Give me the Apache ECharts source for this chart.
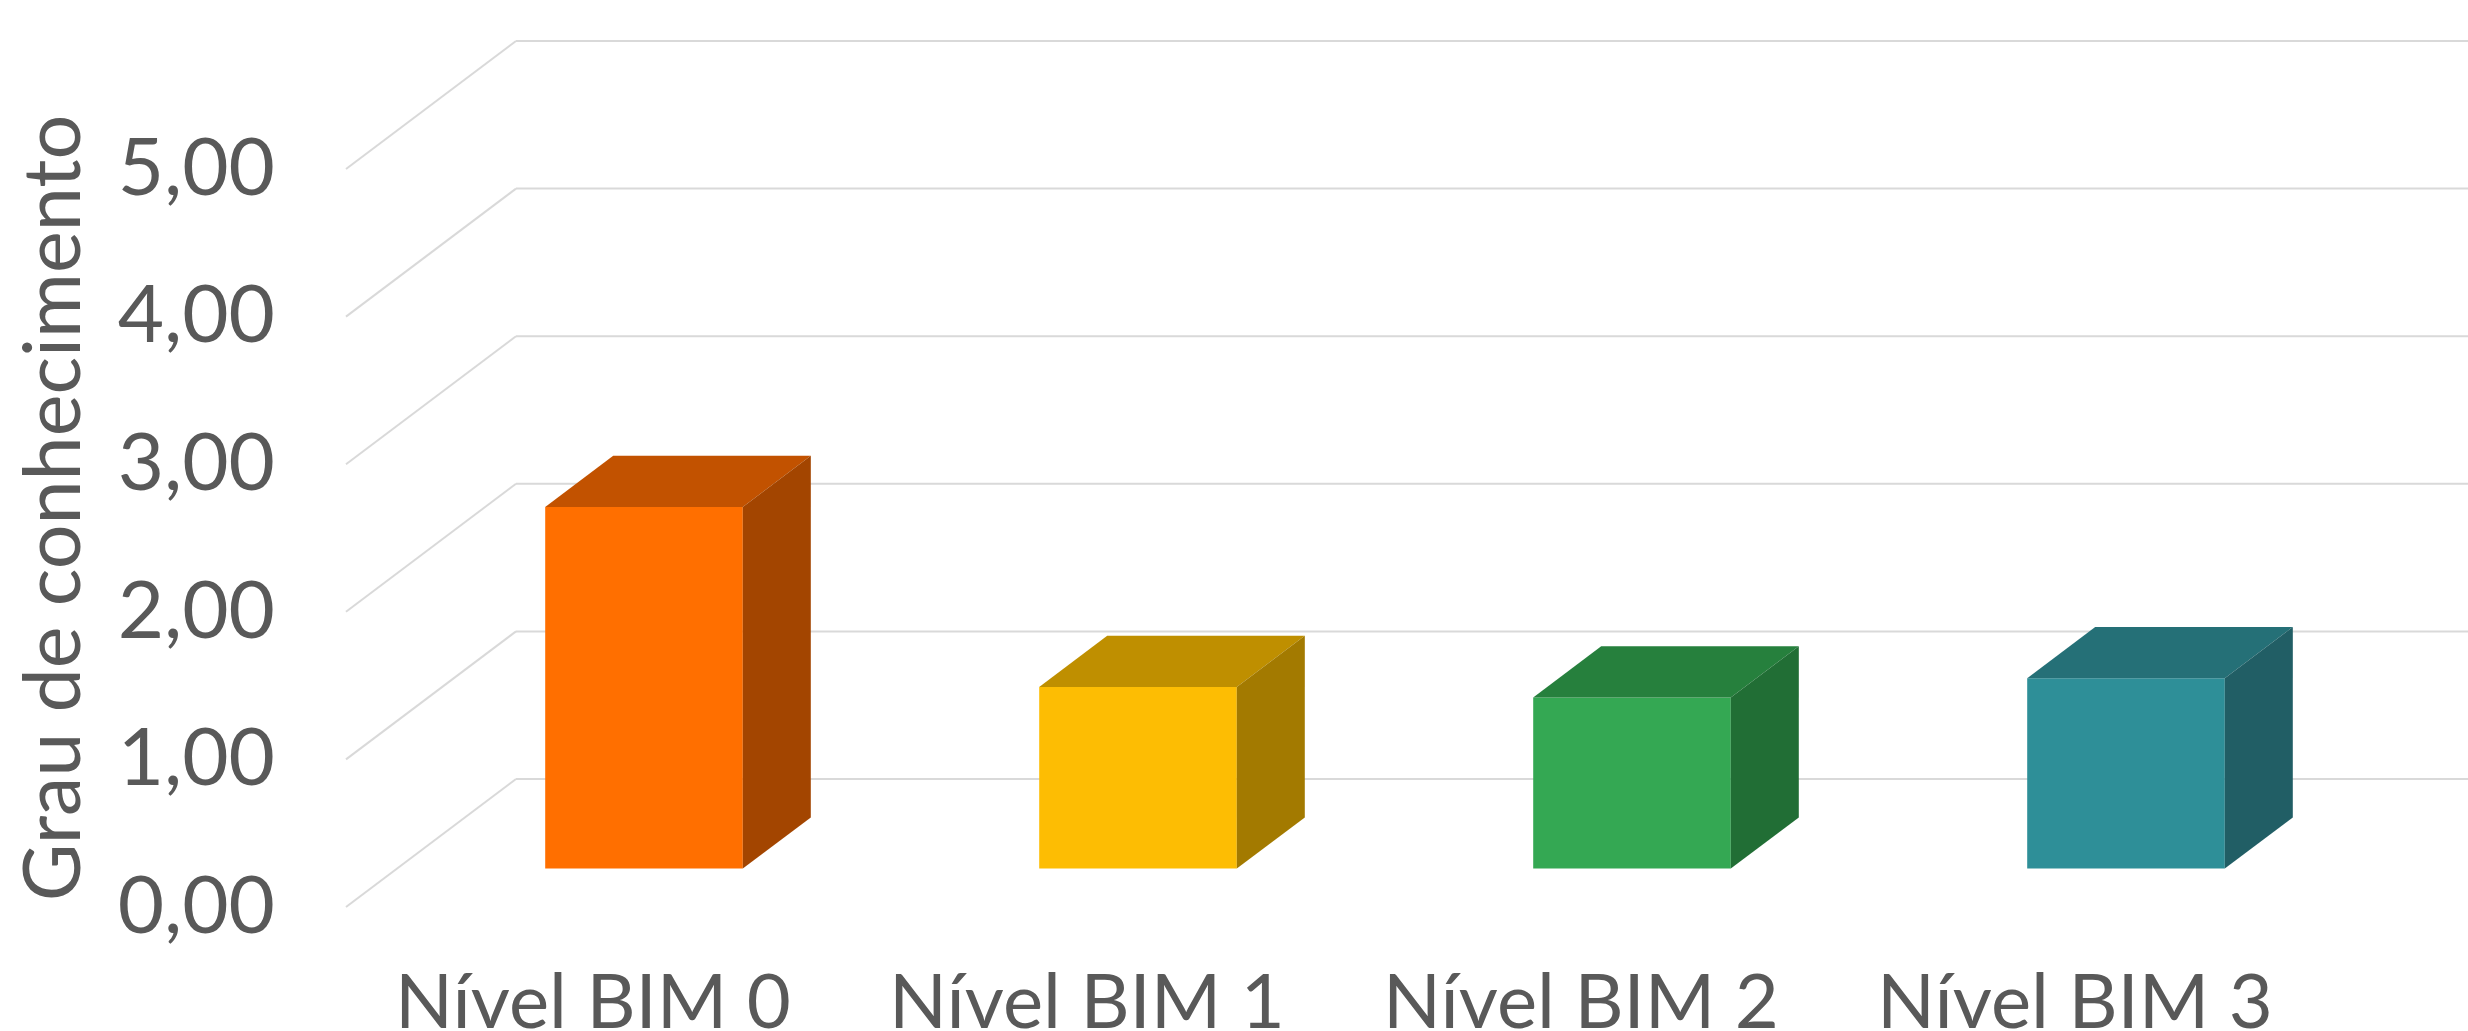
<!DOCTYPE html>
<html>
<head>
<meta charset="utf-8">
<script src="https://cdn.jsdelivr.net/npm/echarts@6/dist/echarts.min.js"></script>
<style>
html, body { margin: 0; padding: 0; background: #ffffff; }
#chart { width: 2468px; height: 1031px; }
</style>
</head>
<body>
<div id="chart"></div>
<script>
// ---- data ----
var categories = ['Nível BIM 0', 'Nível BIM 1', 'Nível BIM 2', 'Nível BIM 3'];
var values = [2.45, 1.23, 1.16, 1.29];
var yTicks = [0, 1, 2, 3, 4, 5];
var axisTitle = 'Grau de conhecimento';

// ---- styles ----
var frontColors = ['#FF6F00', '#FDBD03', '#34A853', '#2E8F98'];
var topColors   = ['#C25200', '#BF8F00', '#26803D', '#257077'];
var sideColors  = ['#A34500', '#A37A00', '#216E35', '#215E65'];
var DEPTH_X = 170, DEPTH_Y = -128;     // wall depth in pixels
var BAR_FRONT = 0.3, BAR_BACK = 0.7;   // bar position in depth
var BAR_WIDTH_RATIO = 0.4;
var GRID_COLOR = '#D9D9D9';
var TEXT_COLOR = '#595959';
var FONT = 'Lato, "Noto Sans", sans-serif';

var chart = echarts.init(document.getElementById('chart'), null, { renderer: 'canvas' });

function fmt(v) { return v.toFixed(2).replace('.', ','); }

var option = {
  backgroundColor: '#ffffff',
  animation: false,
  grid: { left: 346, right: 146, top: 169, bottom: 124, containLabel: false, outerBoundsMode: 'none' },
  xAxis: {
    type: 'category',
    data: categories,
    axisLine: { show: false },
    axisTick: { show: false },
    splitLine: { show: false },
    axisLabel: { color: TEXT_COLOR, fontFamily: FONT, fontSize: 76, margin: 58, interval: 0 }
  },
  yAxis: {
    type: 'value',
    min: 0, max: 5, interval: 1,
    axisLine: { show: false },
    axisTick: { show: false },
    splitLine: { show: false },
    axisLabel: { color: TEXT_COLOR, fontFamily: FONT, fontSize: 80, margin: 71, formatter: fmt },
    name: axisTitle,
    nameLocation: 'middle',
    nameRotate: 90,
    nameGap: 252,
    nameTextStyle: { color: TEXT_COLOR, fontFamily: FONT, fontSize: 79, padding: [0, 0, 0, 60] }
  },
  series: [
    {
      // walls: back wall horizontal lines and side wall diagonals
      type: 'custom',
      silent: true,
      z: 1,
      data: yTicks.map(function (t) { return [0, t]; }),
      renderItem: function (params, api) {
        var cs = params.coordSys;
        var p = api.coord([0, api.value(1)]);
        var y = p[1];
        var x0 = cs.x, x1 = cs.x + cs.width;
        return {
          type: 'group',
          children: [
            { type: 'line', shape: { x1: x0, y1: y, x2: x0 + DEPTH_X, y2: y + DEPTH_Y },
              style: { stroke: GRID_COLOR, lineWidth: 2 } },
            { type: 'line', shape: { x1: x0 + DEPTH_X, y1: y + DEPTH_Y, x2: x1 + DEPTH_X, y2: y + DEPTH_Y },
              style: { stroke: GRID_COLOR, lineWidth: 2 } }
          ]
        };
      }
    },
    {
      type: 'custom',
      z: 2,
      data: values.map(function (v, i) { return [i, v]; }),
      renderItem: function (params, api) {
        var idx = params.dataIndex;
        var topP = api.coord([api.value(0), api.value(1)]);
        var baseP = api.coord([api.value(0), 0]);
        var band = api.size([1, 0])[0];
        var w = band * BAR_WIDTH_RATIO;
        var fx = DEPTH_X * BAR_FRONT, fy = DEPTH_Y * BAR_FRONT;
        var dx = DEPTH_X * (BAR_BACK - BAR_FRONT), dy = DEPTH_Y * (BAR_BACK - BAR_FRONT);
        var xl = topP[0] - w / 2 + fx, xr = topP[0] + w / 2 + fx;
        var yt = topP[1] + fy, yb = baseP[1] + fy;
        return {
          type: 'group',
          children: [
            { type: 'polygon', shape: { points: [[xl, yt], [xr, yt], [xr, yb], [xl, yb]] },
              style: { fill: frontColors[idx] } },
            { type: 'polygon', shape: { points: [[xl, yt], [xl + dx, yt + dy], [xr + dx, yt + dy], [xr, yt]] },
              style: { fill: topColors[idx] } },
            { type: 'polygon', shape: { points: [[xr, yt], [xr + dx, yt + dy], [xr + dx, yb + dy], [xr, yb]] },
              style: { fill: sideColors[idx] } }
          ]
        };
      }
    }
  ]
};
chart.setOption(option);
</script>
</body>
</html>
